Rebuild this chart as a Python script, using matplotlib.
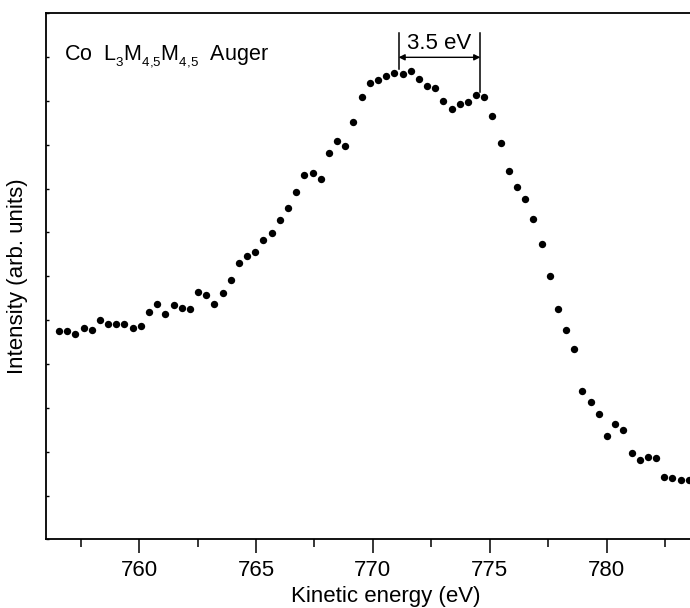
import numpy as np
import matplotlib
matplotlib.use("Agg")
import matplotlib.pyplot as plt
import matplotlib._mathtext as mathtext_internals

plt.rcParams['font.family'] = ['Liberation Sans', 'DejaVu Sans']
plt.rcParams['mathtext.fontset'] = 'custom'
plt.rcParams['mathtext.rm'] = 'Liberation Sans'
plt.rcParams['mathtext.it'] = 'Liberation Sans'

# subscripts a bit smaller and lower, like the original figure
try:
    mathtext_internals.SHRINK_FACTOR = 0.62
    mathtext_internals.FontConstantsBase.sub1 = 0.55
    mathtext_internals.FontConstantsBase.subdrop = 0.6
except Exception:
    pass

# ----------------------------
# Data
# ----------------------------
energy = [756.57, 756.92, 757.27, 757.62, 757.97, 758.32, 758.67, 759.02, 759.37, 759.72,
          760.07, 760.42, 760.77, 761.12, 761.47, 761.82, 762.17, 762.52, 762.87, 763.22,
          763.57, 763.92, 764.27, 764.62, 764.97, 765.32, 765.67, 766.02, 766.37, 766.72,
          767.07, 767.42, 767.77, 768.12, 768.47, 768.82, 769.17, 769.52, 769.87, 770.22,
          770.57, 770.92, 771.27, 771.62, 771.97, 772.32, 772.67, 773.02, 773.37, 773.72,
          774.07, 774.42, 774.77, 775.12, 775.47, 775.82, 776.17, 776.52, 776.87, 777.22,
          777.57, 777.92, 778.27, 778.62, 778.97, 779.32, 779.67, 780.02, 780.37, 780.72,
          781.07, 781.42, 781.77, 782.12, 782.47, 782.82, 783.17, 783.52]

intensity = [4.75, 4.75, 4.68, 4.81, 4.78, 5.00, 4.91, 4.92, 4.92, 4.81,
             4.87, 5.18, 5.37, 5.15, 5.35, 5.28, 5.26, 5.63, 5.58, 5.37,
             5.61, 5.92, 6.30, 6.46, 6.55, 6.82, 6.99, 7.29, 7.56, 7.93,
             8.30, 8.35, 8.22, 8.80, 9.09, 8.98, 9.51, 10.09, 10.41, 10.48,
             10.57, 10.63, 10.62, 10.68, 10.50, 10.34, 10.28, 9.99, 9.81, 9.92,
             9.98, 10.13, 10.09, 9.66, 9.03, 8.41, 8.03, 7.76, 7.30, 6.73,
             6.01, 5.25, 4.78, 4.34, 3.39, 3.14, 2.86, 2.36, 2.63, 2.49,
             1.98, 1.81, 1.88, 1.86, 1.43, 1.40, 1.36, 1.36]

split_left = 771.1
split_right = 774.6
split_label = "3.5 eV"
title = "Co  L$_3$M$_{4{,}5}$M$_{4{,}5}$  Auger"

fs = 16

# ----------------------------
# Plot
# ----------------------------
fig = plt.figure(figsize=(6.9, 6.08), dpi=100)
ax = fig.add_axes([0.0662, 0.1127, 0.9483, 0.8659])

ax.plot(energy, intensity, 'o', color='black', markersize=5.3, markeredgewidth=0)

# splitting marker
ax.plot([split_left, split_left], [11.55, 10.72], color='black', lw=1.1)
ax.plot([split_right, split_right], [11.55, 10.20], color='black', lw=1.1)
ax.annotate('', xy=(split_left, 10.99), xytext=(split_right, 10.99),
            arrowprops=dict(arrowstyle='<|-|>', lw=1.0, color='black',
                            mutation_scale=9, shrinkA=0, shrinkB=0))
ax.text((split_left + split_right) / 2, 11.30, split_label, fontsize=fs,
        ha='center', va='center')

ax.text(756.8, 10.93, title, fontsize=15.5, ha='left', va='baseline')

ax.set_xlim(756.0, 784.0)
ax.set_ylim(0, 12)
ax.set_xticks([760, 765, 770, 775, 780])
ax.set_xticks([757.5, 762.5, 767.5, 772.5, 777.5, 782.5], minor=True)
ax.set_yticks(range(13))
ax.set_yticklabels([])
ax.tick_params(axis='x', which='major', direction='out', length=10, width=1.1,
               labelsize=fs, pad=5)
ax.tick_params(axis='x', which='minor', direction='out', length=6, width=1.1)
ax.tick_params(axis='y', which='major', direction='in', length=2.5, width=1.0)

for s in ax.spines.values():
    s.set_linewidth(1.3)

ax.set_xlabel("Kinetic energy (eV)", fontsize=fs, va='top')
ax.xaxis.set_label_coords(0.52, -0.088)
ax.set_ylabel("Intensity (arb. units)", fontsize=fs, va='center')
ax.yaxis.set_label_coords(-0.043, 0.5)

fig.savefig("out.png", dpi=100)
